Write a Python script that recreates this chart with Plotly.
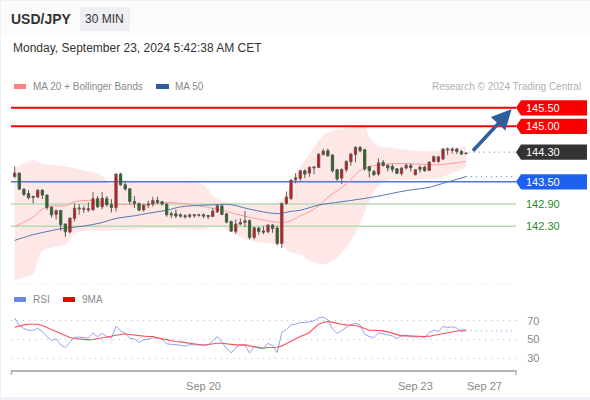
import plotly.graph_objects as go

# candles, 30 min bars
opens = [143.644,143.735,143.30,143.185,143.104,143.086,143.275,143.14,142.816,142.617,142.726,142.356,142.14,142.509,142.762,142.753,142.735,142.743,143.041,142.825,143.05,142.879,142.798,143.708,143.419,143.311,142.969,142.915,142.735,142.87,
         142.897,142.996,142.96,142.897,142.635,142.635,142.608,142.581,142.563,142.581,142.59,142.608,142.59,142.563,142.689,142.843,142.635,142.428,142.158,142.356,142.401,142.455,141.996,142.248,142.167,142.149,142.329,142.248,141.834,142.915,
         143.05,143.554,143.59,143.798,143.734,143.87,143.888,144.239,144.338,144.221,143.825,143.599,143.825,144.041,144.239,144.428,144.365,143.906,143.78,143.708,144.023,143.942,143.915,143.852,143.726,143.87,143.933,143.69,143.834,143.897,
         143.807,144.041,144.05,144.113,144.356,144.347,144.383,144.32,144.257]
closes = [143.735,143.302,143.158,143.068,143.077,143.275,143.14,142.807,142.608,142.726,142.338,142.149,142.518,142.789,142.789,142.771,142.771,143.041,142.825,143.059,142.879,142.807,143.708,143.419,143.302,142.969,142.915,142.735,142.87,142.90,
          142.996,142.942,142.897,142.608,142.608,142.572,142.572,142.554,142.608,142.608,142.608,142.572,142.563,142.707,142.852,142.617,142.41,142.167,142.356,142.401,142.446,141.996,142.257,142.158,142.14,142.329,142.239,141.834,142.915,143.086,
          143.545,143.608,143.798,143.708,143.888,143.897,144.248,144.329,144.203,143.798,143.572,143.834,144.05,144.248,144.428,144.338,143.843,143.798,143.69,144.014,143.942,143.87,143.834,143.726,143.87,143.942,143.879,143.825,143.897,143.798,
          144.032,144.185,144.176,144.383,144.383,144.383,144.32,144.248,144.275]
highs = [143.915,143.735,143.32,143.275,143.122,143.284,143.284,143.149,142.825,142.744,142.735,142.374,142.536,142.915,142.897,142.852,142.942,143.23,143.113,143.221,143.113,143.032,143.726,143.744,143.482,143.32,143.113,142.933,142.897,142.987,
         143.095,143.095,142.987,142.915,142.698,142.752,142.644,142.626,142.635,142.626,142.635,142.644,142.599,142.788,142.897,142.897,142.653,142.446,142.482,142.509,142.716,142.473,142.284,142.284,142.302,142.356,142.356,142.311,142.933,143.239,
         143.563,143.735,143.816,143.834,143.915,143.915,144.266,144.392,144.392,144.248,143.852,143.861,144.086,144.284,144.464,144.464,144.392,143.933,143.816,144.131,144.086,143.978,143.978,143.87,143.906,143.996,143.996,143.843,143.933,143.933,
         144.05,144.203,144.20,144.41,144.428,144.428,144.41,144.356,144.29]
lows = [143.60,143.275,143.113,143.023,142.915,143.059,143.032,142.735,142.536,142.482,142.176,142.014,142.104,142.428,142.608,142.654,142.68,142.717,142.789,142.762,142.825,142.672,142.698,143.392,143.257,142.897,142.789,142.699,142.699,142.789,
        142.825,142.897,142.861,142.554,142.518,142.518,142.527,142.509,142.518,142.527,142.554,142.518,142.491,142.545,142.653,142.599,142.374,142.14,142.086,142.32,142.266,141.942,141.942,142.068,142.086,142.104,142.122,141.78,141.708,142.879,
        143.005,143.455,143.527,143.60,143.635,143.70,143.87,144.203,144.176,143.753,143.527,143.437,143.753,143.933,144.023,144.293,143.798,143.617,143.663,143.663,143.906,143.78,143.753,143.708,143.663,143.834,143.78,143.672,143.743,143.771,
        143.789,144.032,144.00,144.09,144.23,144.266,144.248,144.23,144.24]

upper_x = [0,1,2,3,4,5,6,8,10,13,15,17,19,20,21,22,26,29,33,40,42,43,45,48,52,55,57,58,59,60,62,64,66,68,71,76,77,79,82,87,92,94,98]
upper_y = [143.861,143.933,143.996,144.05,144.086,144.032,143.987,143.96,143.933,143.87,143.80,143.77,143.66,143.51,143.44,143.56,143.53,143.51,143.51,143.49,143.30,143.12,142.99,142.94,142.90,142.90,142.94,143.03,143.17,143.44,143.89,144.25,144.61,144.83,144.92,144.97,144.70,144.47,144.41,144.34,144.34,144.41,144.455]
lower_x = [0,2,4,5,6,8,11,13,16,20,26,29,33,41,44,47,51,58,60,62,64,67,69,72,75,77,79,81,85,90,92,98]
lower_y = [140.843,140.915,141.005,141.365,141.635,141.725,141.80,142.09,142.18,142.18,142.22,142.25,142.25,142.22,142.31,142.13,141.91,141.77,141.59,141.55,141.365,141.275,141.365,141.725,142.356,142.99,143.39,143.545,143.545,143.59,143.60,143.89]
ma20_x = [0,4,6,8,11,13,17,20,26,29,33,40,44,51,58,60,62,63,66,68,72,75,78,82,87,92,98]
ma20_y = [142.29,142.55,142.76,142.85,142.85,142.96,142.99,142.91,142.88,142.88,142.94,142.85,142.76,142.54,142.40,142.446,142.58,142.63,142.85,143.08,143.44,143.80,143.93,143.99,143.98,143.96,144.05]
ma50_x = [0,4,8,11,15,19,22,26,29,33,36,44,47,51,57,60,62,66,71,78,85,90,92,98]
ma50_y = [141.915,142.07,142.18,142.25,142.30,142.40,142.51,142.58,142.65,142.73,142.82,142.88,142.88,142.76,142.64,142.70,142.73,142.87,142.96,143.09,143.26,143.35,143.42,143.64]

rsi = [72.9,65,61.8,60,60,62,58.6,53.2,49,50.7,44.3,41.4,47,52.5,52.5,52,51.4,57,53,56.8,53,51.4,64.3,59.3,56.4,51.4,50.7,47,49.6,50.4,
       52,51.4,50.7,45.4,45,44.6,43.9,42.9,44.6,44.3,43.9,44.3,44.3,49.3,53.2,47.1,40.7,35.7,41.4,43.6,44.3,35.4,42.5,40.7,40.7,46,43.2,36,57.9,60.7,
       65.7,66.4,68.2,68.2,69.3,70,73.2,73.9,71.1,61.4,56.4,60,62.9,65.7,67.5,65.7,55.7,53.2,52.1,57.1,55.7,55,53.9,51.1,54.3,54.6,53.2,52.5,53.2,52.1,
       57.5,60,58.6,63.9,62.9,63.6,62.1,58.2,59.3]
rsi_ma = [63.2,64.6,65.7,66.4,66.4,66.4,65,62.9,60.4,57.9,55.7,53.6,52.2,51.1,50.4,49.6,49.6,50,50.7,51.8,52.9,53.6,54.6,55.7,56.1,55.4,54.6,54.3,53.6,53.2,
          53.2,51.8,50.7,49.3,48.6,47.9,47.5,46.8,46.1,45.4,44.6,43.9,44.6,45.4,46.1,46.1,45.4,44.6,44.3,44.3,44.3,43.2,42.2,41.1,40.7,41.4,41.8,41.8,43.2,45.7,
          48.9,51.4,53.2,55,57.5,62.1,66.4,68.2,69.3,68.6,67.1,66.4,65.7,65.4,65,63.6,61.4,60,60,60,59.3,58.2,56.8,55.4,53.9,53.9,53.6,53.2,53.2,53.2,
          53.6,54.6,55.4,56.4,57.5,58.6,59.3,60,60.4]

levels_red = [145.50, 145.00]
level_pivot = 144.30
level_blue = 143.50
levels_green = [142.90, 142.30]
ma50_last = 143.64
rsi_last = 59.3
rsi_ticks = [30, 50, 70]
date_ticks = [41, 87, 102]
date_labels = ["Sep 20", "Sep 23", "Sep 27"]

x_idx = list(range(len(closes)))
last = x_idx[-1]
x_range = [-0.8, 108.85]
y_range = [140.71, 145.98]
rsi_range = [17.4, 103]
FONT = "Liberation Sans"
W, H = 590, 400


def px(x):
    return x / W


def py(y):
    return 1 - y / H


fig = go.Figure()

# bollinger band
fig.add_trace(go.Scatter(x=lower_x, y=lower_y, mode="lines", line=dict(width=0, shape="spline"), xaxis="x", yaxis="y"))
fig.add_trace(go.Scatter(x=upper_x, y=upper_y, mode="lines", line=dict(width=0, shape="spline"), fill="tonexty",
                         fillcolor="#fee7e7", xaxis="x", yaxis="y"))

# price levels
for lv in levels_red:
    fig.add_trace(go.Scatter(x=x_range, y=[lv, lv], mode="lines", line=dict(color="#fa0000", width=2), xaxis="x", yaxis="y"))
fig.add_trace(go.Scatter(x=x_range, y=[level_blue, level_blue], mode="lines", line=dict(color="#4f76d8", width=1.5), xaxis="x", yaxis="y"))
for lv in levels_green:
    fig.add_trace(go.Scatter(x=x_range, y=[lv, lv], mode="lines", line=dict(color="#b4dcb0", width=1.5), xaxis="x", yaxis="y"))
fig.add_trace(go.Scatter(x=[last + 0.6, x_range[1]], y=[level_pivot, level_pivot], mode="lines",
                         line=dict(color="#777777", width=1, dash="1px,4px"), xaxis="x", yaxis="y"))
fig.add_trace(go.Scatter(x=[last, x_range[1]], y=[ma50_last, ma50_last], mode="lines",
                         line=dict(color="#6a86d8", width=1, dash="1px,4px"), xaxis="x", yaxis="y"))

fig.add_trace(go.Scatter(x=ma20_x, y=ma20_y, mode="lines", line=dict(color="#ff9c9c", width=1, shape="spline"), xaxis="x", yaxis="y"))
fig.add_trace(go.Scatter(x=ma50_x, y=ma50_y, mode="lines", line=dict(color="#5578b4", width=1, shape="spline"), xaxis="x", yaxis="y"))

# candles sit on an overlaid pair of axes, scatter traces would cover them otherwise
fig.add_trace(go.Candlestick(
    x=x_idx, open=opens, high=highs, low=lows, close=closes,
    increasing=dict(line=dict(color="#6e5a5a", width=1), fillcolor="#e80000"),
    decreasing=dict(line=dict(color="#4c5c4c", width=1), fillcolor="#1c6e1c"),
    xaxis="x3", yaxis="y3",
))

# rsi panel
fig.add_trace(go.Scatter(x=x_idx, y=rsi, mode="lines", line=dict(color="#8ea6ec", width=1), xaxis="x2", yaxis="y2"))
fig.add_trace(go.Scatter(x=[last, x_range[1]], y=[rsi_last, rsi_last], mode="lines",
                         line=dict(color="#8ea6ec", width=1, dash="1px,4px"), xaxis="x2", yaxis="y2"))
fig.add_trace(go.Scatter(x=x_idx, y=rsi_ma, mode="lines", line=dict(color="#f8505a", width=1.1), xaxis="x2", yaxis="y2"))

shapes = [
    # page frame and header
    dict(type="rect", xref="paper", yref="paper", x0=0, x1=1, y0=py(36), y1=1, fillcolor="#fbfbfb", line_width=0, layer="below"),
    dict(type="rect", xref="paper", yref="paper", x0=px(80), x1=px(130), y0=py(31), y1=py(7), fillcolor="#eeeff2", line_width=0, layer="below"),
    dict(type="rect", xref="paper", yref="paper", x0=0, x1=px(1), y0=0, y1=1, fillcolor="#eef1f5", line_width=0, layer="below"),
    dict(type="rect", xref="paper", yref="paper", x0=0, x1=1, y0=0, y1=py(397), fillcolor="#eef1f5", line_width=0, layer="below"),
    dict(type="rect", xref="paper", yref="paper", x0=0, x1=1, y0=py(1), y1=1, fillcolor="#eef1f5", line_width=0, layer="below"),
    # legend swatches
    dict(type="rect", xref="paper", yref="paper", x0=px(14), x1=px(26), y0=py(89), y1=py(84), fillcolor="#ff8080", line_width=0),
    dict(type="rect", xref="paper", yref="paper", x0=px(156), x1=px(169), y0=py(89), y1=py(84), fillcolor="#2f5c9e", line_width=0),
    dict(type="rect", xref="paper", yref="paper", x0=px(14), x1=px(26), y0=py(302), y1=py(297), fillcolor="#6a8ae6", line_width=0),
    dict(type="rect", xref="paper", yref="paper", x0=px(63), x1=px(75), y0=py(302), y1=py(297), fillcolor="#f00000", line_width=0),
    # faint panel separator
    dict(type="line", xref="paper", yref="paper", x0=px(11), x1=px(516), y0=py(284), y1=py(284),
         line=dict(color="#e4e4e4", width=1, dash="1px,4px")),
    # time axis end ticks
    dict(type="line", xref="paper", yref="paper", x0=px(11.5), x1=px(11.5), y0=py(370), y1=py(375), line=dict(color="#b5b5b5", width=1.5)),
    dict(type="line", xref="paper", yref="paper", x0=px(516), x1=px(516), y0=py(370), y1=py(375), line=dict(color="#b5b5b5", width=1.5)),
]

# price tags, pointed on the left
half = 0.206
tags = [(levels_red[0], "#fa0000"), (levels_red[1], "#fa0000"), (level_pivot, "#333333"), (level_blue, "#1b60ee")]
for lv, col in tags:
    shapes.append(dict(
        type="path", xref="paper", yref="y",
        path=f"M {px(516)} {lv} L {px(521)} {lv + half} L {px(587)} {lv + half} L {px(587)} {lv - half} L {px(521)} {lv - half} Z",
        fillcolor=col, line_width=0,
    ))

annotations = []


def label(x, y, text, size, color, bold=False, anchor="left"):
    annotations.append(dict(
        xref="paper", yref="paper", x=px(x), y=py(y), text=f"<b>{text}</b>" if bold else text,
        showarrow=False, xanchor=anchor, yanchor="middle", xshift=0,
        font=dict(family=FONT, size=size, color=color), borderpad=0, borderwidth=0,
    ))


label(11, 19.5, "USD/JPY", 14, "#333333", bold=True)
label(85, 19.5, "30 MIN", 12, "#333333")
label(13, 48.5, "Monday, September 23, 2024 5:42:38 AM CET", 12, "#333333")
label(33, 86.5, "MA 20 + Bollinger Bands", 10, "#8a8a8a")
label(175, 86.5, "MA 50", 10, "#8a8a8a")
label(581, 86.5, "Research © 2024 Trading Central", 10, "#b0b0b0", anchor="right")
label(33, 299.5, "RSI", 10, "#8a8a8a")
label(82, 299.5, "9MA", 10, "#8a8a8a")

for lv, col in tags:
    annotations.append(dict(xref="paper", yref="y", x=px(525), y=lv, text=f"{lv:.2f}", showarrow=False, xanchor="left",
                            font=dict(family=FONT, size=11, color="#ffffff"), borderpad=0))
for lv in levels_green:
    annotations.append(dict(xref="paper", yref="y", x=px(525), y=lv, text=f"{lv:.2f}", showarrow=False, xanchor="left",
                            font=dict(family=FONT, size=11, color="#2a8a2a"), borderpad=0))

# forecast arrow
annotations.append(dict(
    xref="x", yref="y", axref="x", ayref="y", x=107.9, y=145.46, ax=99.2, ay=level_pivot, text="",
    showarrow=True, arrowhead=2, arrowsize=1.1, arrowwidth=3.6, arrowcolor="#2e5f9e",
))

fig.update_layout(
    width=W, height=H,
    margin=dict(l=0, r=0, t=0, b=0),
    paper_bgcolor="#ffffff", plot_bgcolor="rgba(0,0,0,0)",
    showlegend=False,
    shapes=shapes, annotations=annotations,
    font=dict(family=FONT),
    xaxis=dict(domain=[px(11), px(516)], range=x_range, visible=False, anchor="y"),
    yaxis=dict(domain=[py(285), py(90)], range=y_range, visible=False, anchor="x"),
    xaxis3=dict(domain=[px(11), px(516)], range=x_range, visible=False, overlaying="x", anchor="y3",
                rangeslider=dict(visible=False)),
    yaxis3=dict(domain=[py(285), py(90)], range=y_range, visible=False, overlaying="y", anchor="x3"),
    xaxis2=dict(domain=[px(11), px(516)], range=x_range, anchor="y2", showgrid=False, zeroline=False,
                showline=True, linecolor="#b5b5b5", linewidth=2,
                tickmode="array", tickvals=date_ticks, ticktext=date_labels, ticks="outside", ticklen=5,
                tickcolor="rgba(0,0,0,0)", tickfont=dict(family=FONT, size=11, color="#888888")),
    yaxis2=dict(domain=[py(370), py(290)], range=rsi_range, anchor="x2", side="right", zeroline=False,
                showline=False, tickmode="array", tickvals=rsi_ticks, ticks="outside", ticklen=8,
                tickcolor="rgba(0,0,0,0)", tickfont=dict(family=FONT, size=11, color="#888888"),
                showgrid=True, gridcolor="#bdbdbd", griddash="1px,5px", gridwidth=1),
)

fig.write_html("out.html", config=dict(displayModeBar=False), post_script="document.body.style.margin='0';")
